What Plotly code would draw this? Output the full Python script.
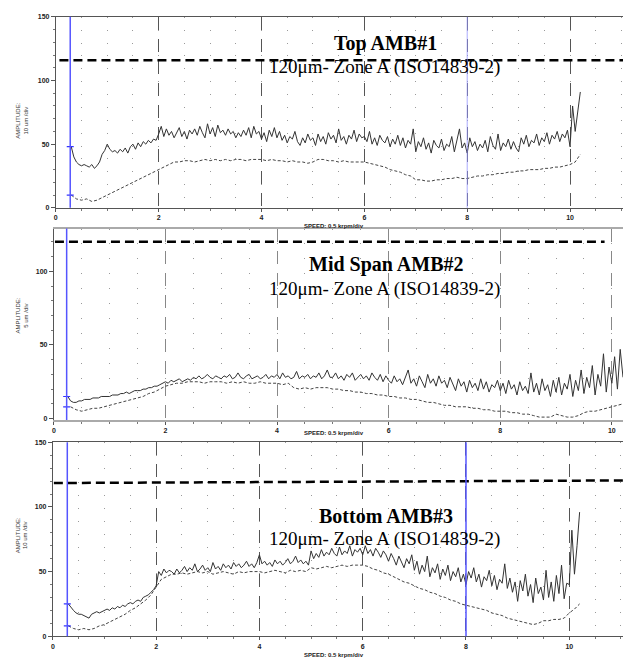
import numpy as np
import plotly.graph_objects as go

# ---------------- data (amplitude in um, speed in krpm) ----------------
SOLID_STEP = 0.05
DASH_STEP = 0.1

TOP_SOLID_START = 0.30
TOP_SOLID = (
    [48, 40, 36, 34, 33, 34, 33, 32, 34, 31, 33, 36, 42, 45] +
    [50, 46, 44, 45, 43, 46, 44, 47, 43, 48, 50, 46, 51, 48, 52, 50, 53, 51, 54, 53] +
    [58, 64, 56, 62, 57, 60, 55, 59, 63, 56, 60, 54, 61, 58, 62, 57, 64, 59, 55, 66] +
    [58, 63, 56, 65, 59, 61, 57, 62, 58, 60, 55, 59, 56, 61, 57, 63, 55, 64, 58, 60] +
    [54, 59, 52, 61, 56, 63, 55, 60, 53, 57, 51, 56, 54, 60, 52, 49, 55, 51, 58, 53] +
    [55, 49, 58, 52, 56, 50, 59, 54, 57, 51, 62, 53, 56, 50, 57, 54, 61, 52, 58, 55] +
    [56, 52, 60, 50, 55, 49, 57, 53, 51, 56, 48, 54, 50, 57, 49, 55, 47, 53, 50, 62] +
    [44, 52, 48, 55, 46, 51, 43, 53, 49, 47, 54, 45, 50, 48, 56, 44, 52, 62, 47, 51] +
    [43, 55, 48, 52, 45, 50, 47, 53, 44, 56, 49, 46, 58, 45, 51, 48, 54, 46, 52, 47] +
    [44, 55, 50, 57, 48, 53, 51, 58, 49, 55, 52, 59, 50, 57, 54, 60, 52, 58, 55, 61] +
    [48, 80, 60, 74, 91]
)
TOP_DASH_START = 0.30
TOP_DASH = (
    [10, 7, 6, 7, 5, 6, 8] +
    [10, 12, 14, 16, 18, 20, 22, 24, 26, 28] +
    [30, 32, 34, 36, 36, 37, 37, 36, 37, 38] +
    [37, 38, 37, 38, 37, 38, 38, 37, 38, 38] +
    [38, 37, 38, 37, 37, 36, 37, 36, 36, 35] +
    [36, 38, 38, 37, 37, 36, 37, 36, 36, 36] +
    [36, 35, 34, 33, 32, 30, 29, 28, 26, 25] +
    [22, 22, 21, 21, 22, 22, 23, 23, 24, 23] +
    [23, 24, 25, 25, 26, 26, 27, 27, 28, 28] +
    [29, 29, 30, 30, 30, 31, 31, 32, 32, 33] +
    [34, 36, 42]
)

MID_SOLID_START = 0.25
MID_SOLID = (
    [15, 12, 11, 11, 12, 12, 13, 13, 13, 14, 14, 14, 15, 15, 15] +
    [15, 16, 16, 16, 17, 17, 18, 17, 18, 19, 19, 19, 20, 20, 21, 21, 22, 22, 23, 24] +
    [25, 24, 26, 25, 26, 27, 25, 26, 27, 26, 28, 27, 29, 27, 28, 30, 28, 27, 29, 28] +
    [27, 29, 28, 30, 27, 28, 31, 28, 27, 29, 30, 27, 28, 29, 27, 28, 30, 27, 29, 28] +
    [30, 27, 31, 28, 29, 27, 28, 32, 27, 29, 28, 30, 27, 29, 28, 31, 27, 29, 33, 28] +
    [28, 31, 27, 29, 26, 30, 28, 31, 26, 28, 30, 27, 29, 26, 31, 28, 26, 30, 25, 29] +
    [26, 24, 29, 25, 27, 23, 28, 33, 24, 27, 22, 29, 25, 21, 30, 24, 27, 22, 29, 24] +
    [26, 21, 28, 23, 19, 27, 22, 25, 18, 26, 21, 24, 19, 27, 20, 25, 18, 23, 21, 26] +
    [19, 24, 17, 26, 20, 23, 16, 25, 19, 22, 17, 31, 18, 24, 16, 27, 19, 23, 15, 26] +
    [18, 28, 16, 24, 20, 30, 15, 26, 19, 33, 17, 28, 21, 36, 16, 30, 22, 44, 18, 35] +
    [24, 42, 20, 47, 28]
)
MID_DASH_START = 0.30
MID_DASH = (
    [8, 6, 5, 6, 7, 7, 8] +
    [9, 10, 11, 12, 13, 14, 15, 17, 18, 20] +
    [22, 23, 24, 24, 25, 25, 25, 24, 25, 25] +
    [25, 24, 25, 24, 25, 24, 24, 25, 24, 24] +
    [24, 23, 24, 21, 20, 21, 20, 21, 21, 21] +
    [20, 20, 19, 19, 18, 18, 17, 17, 16, 16] +
    [15, 15, 14, 14, 13, 13, 12, 11, 11, 10] +
    [9, 9, 8, 8, 8, 7, 7, 6, 6, 5] +
    [5, 5, 4, 4, 3, 3, 2, 1, 1, 1] +
    [3, 2, 1, 1, 2, 4, 5, 5, 6, 7] +
    [8, 9, 10]
)

BOT_SOLID_START = 0.30
BOT_SOLID = (
    [25, 22, 20, 18, 17, 17, 16, 15, 14, 17, 18, 19, 18, 19] +
    [20, 21, 20, 22, 21, 23, 22, 24, 23, 25, 26, 25, 27, 28, 27, 30, 31, 32, 34, 36] +
    [39, 50, 47, 52, 49, 51, 50, 48, 52, 49, 51, 54, 50, 53, 51, 56, 50, 52, 55, 51] +
    [53, 50, 57, 52, 54, 51, 56, 53, 55, 52, 57, 54, 56, 53, 55, 58, 54, 56, 53, 57] +
    [63, 56, 58, 55, 57, 54, 59, 56, 58, 55, 57, 60, 56, 58, 62, 57, 59, 56, 58, 55] +
    [66, 60, 64, 61, 67, 62, 65, 63, 68, 64, 62, 69, 63, 66, 64, 70, 62, 67, 65, 68] +
    [63, 70, 64, 67, 62, 68, 65, 61, 66, 63, 58, 64, 60, 55, 62, 57, 53, 60, 56, 63] +
    [51, 58, 48, 55, 50, 62, 46, 53, 49, 56, 44, 52, 47, 55, 43, 50, 46, 53, 42, 48] +
    [40, 50, 45, 53, 42, 48, 38, 46, 43, 51, 39, 47, 36, 44, 41, 56, 37, 45, 34, 42] +
    [27, 43, 35, 48, 31, 40, 26, 45, 33, 38, 28, 51, 30, 42, 27, 47, 33, 55, 29, 41] +
    [40, 82, 48, 70, 96]
)
BOT_DASH_START = 0.30
BOT_DASH = (
    [8, 6, 5, 6, 5, 6, 8] +
    [9, 11, 13, 15, 17, 20, 22, 25, 28, 32] +
    [38, 44, 46, 48, 48, 49, 48, 49, 50, 49] +
    [50, 48, 49, 50, 49, 48, 50, 49, 50, 50] +
    [50, 49, 50, 51, 50, 49, 51, 50, 51, 50] +
    [53, 52, 53, 54, 53, 54, 55, 54, 55, 55] +
    [55, 54, 52, 51, 49, 48, 46, 44, 42, 41] +
    [39, 37, 36, 34, 33, 31, 30, 28, 27, 25] +
    [24, 23, 22, 21, 20, 18, 17, 16, 14, 13] +
    [12, 11, 10, 9, 10, 12, 12, 13, 13, 14] +
    [18, 21, 25]
)

# 120 um Zone A limit (as drawn on each plot)
TOP_LIMIT_X, TOP_LIMIT_Y = [0.07, 11.03], [116, 116]
MID_LIMIT_X, MID_LIMIT_Y = [0.02, 9.87], [120, 120]
BOT_LIMIT_X, BOT_LIMIT_Y = [0.02, 11.04], [118.5, 120.5]

# cursor lines (speed) and start markers
CURSOR_TOP = [0.28, 8.0]
CURSOR_MID = [0.23]
CURSOR_BOT = [0.28, 8.0]
START_TOP = [48, 10]
START_MID = [15, 8]
START_BOT = [25, 8]

TITLES = ["Top AMB#1", "Mid Span AMB#2", "Bottom AMB#3"]
SUBTITLE = "120μm- Zone A (ISO14839-2)"
YTITLES = ["AMPLITUDE:<br>10 um /div", "AMPLITUDE:<br>5 um /div", "AMPLITUDE:<br>10 um /div"]
XTITLE = "SPEED: 0.5 krpm/div"
X_TICKS = [0, 2, 4, 6, 8, 10]

W, H = 623, 661


def speeds(start, step, vals):
    return np.round(start + step * np.arange(len(vals)), 3)


fig = go.Figure()

panels = [
    dict(ax="", solid=(TOP_SOLID_START, TOP_SOLID), dash=(TOP_DASH_START, TOP_DASH),
         lim=(TOP_LIMIT_X, TOP_LIMIT_Y), cur=CURSOR_TOP, start=START_TOP),
    dict(ax="2", solid=(MID_SOLID_START, MID_SOLID), dash=(MID_DASH_START, MID_DASH),
         lim=(MID_LIMIT_X, MID_LIMIT_Y), cur=CURSOR_MID, start=START_MID),
    dict(ax="3", solid=(BOT_SOLID_START, BOT_SOLID), dash=(BOT_DASH_START, BOT_DASH),
         lim=(BOT_LIMIT_X, BOT_LIMIT_Y), cur=CURSOR_BOT, start=START_BOT),
]

for p in panels:
    xa, ya = "x" + p["ax"], "y" + p["ax"]
    s0, sv = p["solid"]
    d0, dv = p["dash"]
    fig.add_trace(go.Scatter(x=speeds(d0, DASH_STEP, dv), y=dv, mode="lines",
                             line=dict(color="#444444", width=1, dash="3px,2px"),
                             xaxis=xa, yaxis=ya, showlegend=False, hoverinfo="skip"))
    fig.add_trace(go.Scatter(x=speeds(s0, SOLID_STEP, sv), y=sv, mode="lines",
                             line=dict(color="#333333", width=1),
                             xaxis=xa, yaxis=ya, showlegend=False, hoverinfo="skip"))
    fig.add_trace(go.Scatter(x=p["lim"][0], y=p["lim"][1], mode="lines",
                             line=dict(color="black", width=2.5, dash="9px,5px"),
                             xaxis=xa, yaxis=ya, showlegend=False, hoverinfo="skip"))
    fig.add_trace(go.Scatter(x=[p["cur"][0]] * len(p["start"]), y=p["start"], mode="markers",
                             marker=dict(symbol="line-ew", size=5,
                                         line=dict(color="#3333ff", width=1.2)),
                             xaxis=xa, yaxis=ya, showlegend=False, hoverinfo="skip"))

# cursor shapes
shapes = []
for p in panels:
    for i, c in enumerate(p["cur"]):
        if p["ax"] == "" and i == 1:
            col, wd = "rgba(150,150,255,0.8)", 1
        else:
            col, wd = "#5555ff", 1.5
        shapes.append(dict(type="line", xref="x" + p["ax"], yref="y" + p["ax"] + " domain",
                           x0=c, x1=c, y0=0, y1=1, line=dict(color=col, width=wd), layer="above"))

tickfont = dict(family="Liberation Sans", size=7, color="#222", weight="bold")


def xaxis(domain, rng, period_px, anchor, linecol="#555", gridcol="#555", lw=1):
    return dict(domain=domain, range=rng, anchor=anchor, showline=True, linecolor=linecol,
                linewidth=lw, mirror=True, tickvals=X_TICKS, ticks="outside", ticklen=3,
                tickcolor="#555", tickfont=tickfont, zeroline=False,
                showgrid=True, gridcolor=gridcol, gridwidth=1.3, griddash="13px,9px",
                minor=dict(dtick=0.5, tick0=0, ticks="outside", ticklen=2, tickcolor="#777",
                           showgrid=True, gridcolor="#9a9a9a", gridwidth=1,
                           griddash="1px,%.2fpx" % (period_px - 1)),
                fixedrange=True)


def yaxis(domain, rng, tv, anchor):
    return dict(domain=domain, range=rng, anchor=anchor, showline=True, linecolor="#555",
                linewidth=1, tickvals=tv, ticks="outside", ticklen=4, tickcolor="#555",
                tickfont=tickfont, showgrid=False, zeroline=False,
                minor=dict(dtick=10, tick0=0, ticks="outside", ticklen=2, tickcolor="#777"),
                fixedrange=True)


def dom_y(top_px, bot_px):
    return [1 - bot_px / H, 1 - top_px / H]


layout = dict(
    width=W, height=H, margin=dict(l=0, r=0, t=0, b=0),
    paper_bgcolor="white", plot_bgcolor="white", showlegend=False,
    xaxis=xaxis([54 / W, 1], [0, 11.03], 12.87, "y"),
    yaxis=yaxis(dom_y(13, 206), [0, 150], [0, 50, 100, 150], "x"),
    xaxis2=xaxis([52 / W, 1], [0, 10.2], 14.9, "y2", linecol="#aaa", gridcol="#888", lw=1.5),
    yaxis2=yaxis(dom_y(227, 420.5), [-1, 129], [0, 50, 100], "x2"),
    xaxis3=xaxis([51 / W, 1], [0, 11.04], 13.07, "y3"),
    yaxis3=yaxis(dom_y(443, 639), [0, 150], [0, 50, 100, 150], "x3"),
    shapes=shapes,
)
fig.update_layout(**layout)

ann = []
title_y = [40, 263, 517]
sub_y = [64, 288, 541]
ytitle_y = [118, 315, 537]
xtitle_y = [224, 434, 657.5]
for i in range(3):
    ann.append(dict(x=385 / W, y=1 - title_y[i] / H, xref="paper", yref="paper",
                    text="<b>%s</b>" % TITLES[i], showarrow=False,
                    font=dict(family="Liberation Serif", size=20, color="black"),
                    xanchor="center", yanchor="middle"))
    ann.append(dict(x=384 / W, y=1 - sub_y[i] / H, xref="paper", yref="paper",
                    text=SUBTITLE, showarrow=False,
                    font=dict(family="Liberation Serif", size=19, color="black"),
                    xanchor="center", yanchor="middle"))
    ann.append(dict(x=20 / W, y=1 - ytitle_y[i] / H, xref="paper", yref="paper",
                    text=YTITLES[i], showarrow=False, textangle=-90,
                    font=dict(family="Liberation Sans", size=6, color="#333"),
                    xanchor="center", yanchor="middle"))
    ann.append(dict(x=333 / W, y=1 - xtitle_y[i] / H, xref="paper", yref="paper",
                    text="<b>%s</b>" % XTITLE, showarrow=False,
                    font=dict(family="Liberation Sans", size=6, color="#222"),
                    xanchor="center", yanchor="middle"))
fig.update_layout(annotations=ann)

fig.write_html("out.html")
